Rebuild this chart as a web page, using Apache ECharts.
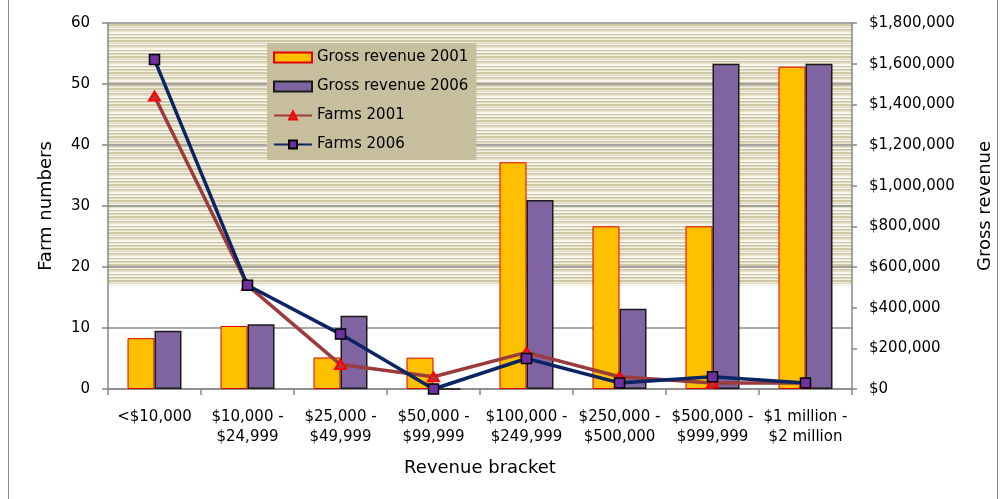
<!DOCTYPE html>
<html>
<head>
<meta charset="utf-8">
<script src="https://cdn.jsdelivr.net/npm/echarts@6/dist/echarts.min.js"></script>
<style>html,body{margin:0;padding:0;background:#fff}#c{width:1007px;height:499px}</style>
</head>
<body>
<div id="c"></div>
<script>
const categories = ['<$10,000', '$10,000 -\n$24,999', '$25,000 -\n$49,999', '$50,000 -\n$99,999', '$100,000 -\n$249,999', '$250,000 -\n$500,000', '$500,000 -\n$999,999', '$1 million -\n$2 million'];
const gross2001 = [250000, 310000, 155000, 154000, 1115000, 800000, 800000, 1585000];
const gross2006 = [287000, 318000, 360000, 0, 930000, 395000, 1600000, 1600000];
const farms2001 = [48, 17, 4, 2, 6, 2, 1, 1];
const farms2006 = [54, 17, 9, 0, 5, 1, 2, 1];
const leftTicks = {min: 0, max: 60, interval: 10};
const rightTicks = {min: 0, max: 1800000, interval: 200000};

const FONT = 'DejaVu Sans';
function stripes() {
  const rows = ['#F7F5EE','#F7F5EE','#D0C8A6','#E9E5D2','#FFFFFF','#C9C19E','#DED8BE','#F3F1E7','#CFC7A4','#CFC7A4','#EFECDF','#DAD4B8','#FAF9F4','#C8C09C','#E4DFC9','#E4DFC9'];
  const cv = document.createElement('canvas');
  cv.width = 4; cv.height = rows.length;
  const ctx = cv.getContext('2d');
  rows.forEach((c, i) => { ctx.fillStyle = c; ctx.fillRect(0, i, 4, 1); });
  return cv;
}
function money(v) {
  return '$' + String(v).replace(/\B(?=(\d{3})+(?!\d))/g, ',');
}
const axisGray = '#868686';
const chart = echarts.init(document.getElementById('c'), null, {renderer: 'canvas'});
chart.setOption({
  animation: false,
  backgroundColor: '#fff',
  textStyle: {fontFamily: FONT},
  grid: {left: 108, right: 155, top: 23, bottom: 110, containLabel: false},
  graphic: [{
    type: 'rect', shape: {x: 8.5, y: -5, width: 989, height: 510},
    style: {fill: null, stroke: '#8C8C8C', lineWidth: 1}, silent: true
  }],
  legend: {
    left: 267, top: 43,
    orient: 'vertical',
    backgroundColor: '#C6BE9C',
    padding: [7, 8, 8, 6],
    itemWidth: 38, itemHeight: 10, itemGap: 14,
    textStyle: {fontFamily: FONT, fontSize: 15, color: '#000'},
    data: [
      {name: 'Gross revenue 2001', icon: 'rect'},
      {name: 'Gross revenue 2006', icon: 'rect'},
      {name: 'Farms 2001'},
      {name: 'Farms 2006'}
    ]
  },
  xAxis: {
    type: 'category', data: categories,
    axisLine: {lineStyle: {color: axisGray, width: 1.5}},
    axisTick: {show: true, length: 6, lineStyle: {color: axisGray, width: 1.5}},
    axisLabel: {fontFamily: FONT, fontSize: 15, color: '#000', margin: 18, lineHeight: 20, interval: 0},
    name: 'Revenue bracket', nameLocation: 'middle', nameGap: 70,
    nameTextStyle: {fontFamily: FONT, fontSize: 18, color: '#000'}
  },
  yAxis: [{
    type: 'value', min: leftTicks.min, max: leftTicks.max, interval: leftTicks.interval,
    axisLine: {show: true, lineStyle: {color: axisGray, width: 1.5}},
    axisTick: {show: true, length: 6, lineStyle: {color: axisGray, width: 1.5}},
    axisLabel: {fontFamily: FONT, fontSize: 15, color: '#000', margin: 18},
    splitLine: {show: true, lineStyle: {color: '#8C8C8C', width: 1.5}},
    name: 'Farm numbers', nameLocation: 'middle', nameGap: 53, nameRotate: 90,
    nameTextStyle: {fontFamily: FONT, fontSize: 18, color: '#000'}
  }, {
    type: 'value', min: rightTicks.min, max: rightTicks.max, interval: rightTicks.interval,
    position: 'right',
    axisLine: {show: true, lineStyle: {color: axisGray, width: 1.5}},
    axisTick: {show: true, length: 5, lineStyle: {color: axisGray, width: 1.5}},
    axisLabel: {fontFamily: FONT, fontSize: 15, color: '#000', margin: 17, formatter: money},
    splitLine: {show: false},
    name: 'Gross revenue', nameLocation: 'middle', nameGap: 124, nameRotate: 90,
    nameTextStyle: {fontFamily: FONT, fontSize: 18, color: '#000'}
  }],
  series: [{
    name: 'bg', type: 'line', yAxisIndex: 0, data: [], z: -1, silent: true,
    markArea: {
      silent: true, z: -1,
      itemStyle: {color: {image: stripes(), repeat: 'repeat'}},
      data: [[{yAxis: 17}, {yAxis: 60}]]
    }
  }, {
    name: 'Gross revenue 2001', type: 'bar', yAxisIndex: 1, data: gross2001,
    barWidth: 27, barGap: '0%', z: 3,
    itemStyle: {color: '#FFC000', borderColor: '#E00000', borderWidth: 1}
  }, {
    name: 'Gross revenue 2006', type: 'bar', yAxisIndex: 1, data: gross2006,
    barWidth: 27, barGap: '0%', z: 3,
    itemStyle: {color: '#8064A2', borderColor: '#1A1A1A', borderWidth: 1.5}
  }, {
    name: 'Farms 2001', type: 'line', yAxisIndex: 0, data: farms2001, z: 5,
    symbol: 'triangle', symbolSize: [11, 9], showAllSymbol: true,
    lineStyle: {color: '#9B3B3B', width: 3.5},
    itemStyle: {color: '#B03A3A', borderColor: '#FF0000', borderWidth: 2}
  }, {
    name: 'Farms 2006', type: 'line', yAxisIndex: 0, data: farms2006, z: 6,
    symbol: 'rect', symbolSize: 10, showAllSymbol: true,
    lineStyle: {color: '#0B2463', width: 3.5},
    itemStyle: {color: '#7030A0', borderColor: '#000', borderWidth: 1.5}
  }]
});
</script>
</body>
</html>
